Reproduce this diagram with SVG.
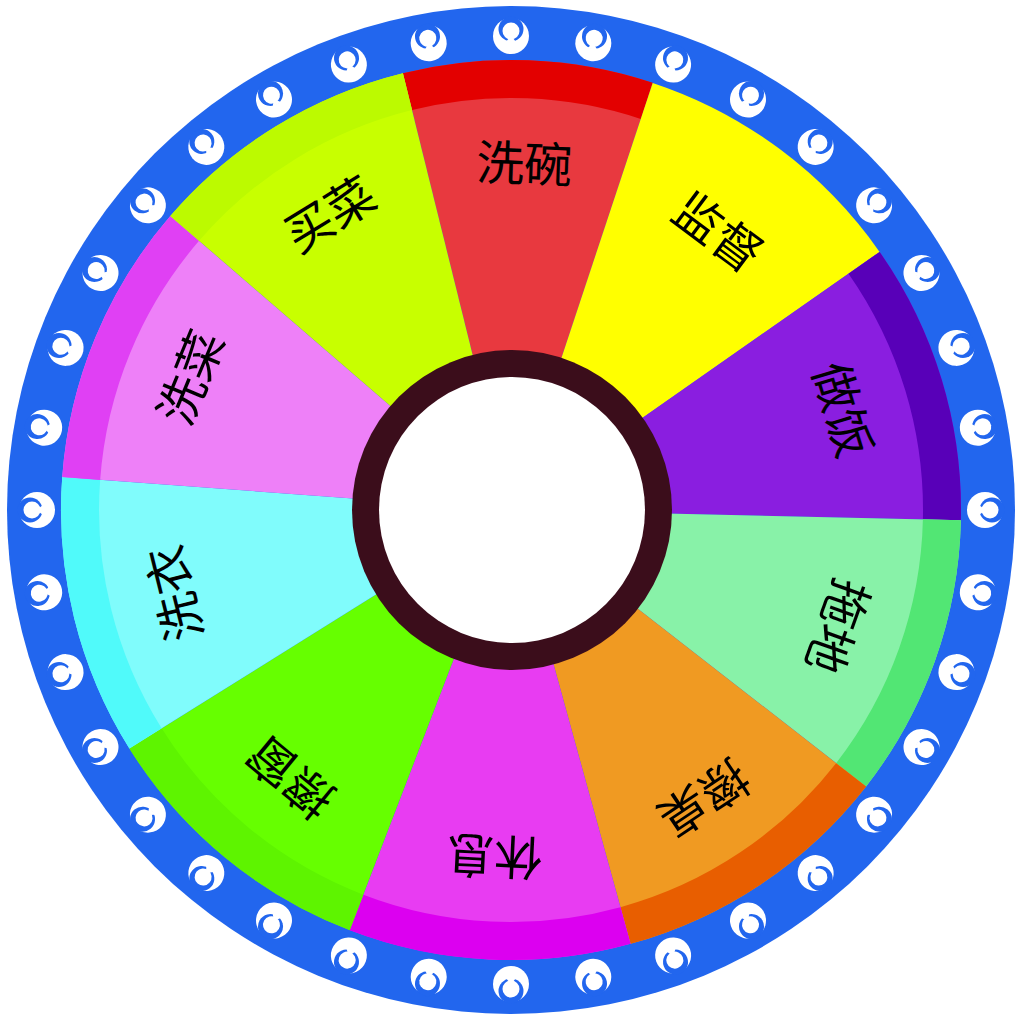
<svg xmlns="http://www.w3.org/2000/svg" xmlns:xlink="http://www.w3.org/1999/xlink" width="1024" height="1024" viewBox="0 0 1024 1024">
<style>
.lbl{font-family:"Noto Sans CJK SC","Noto Sans CJK TC",sans-serif;font-size:48px;fill:#000;text-anchor:middle;dominant-baseline:central}
.rim{fill:none;stroke-width:38}
</style>
<defs>
<g id="ico">
<circle r="18" fill="#fff"/>
<circle cx="0" cy="-7" r="12.5" fill="#2266ee"/>
<path d="M-5 6 L0 -0.5 L5 6 Z" fill="#fff"/>
<circle cx="0" cy="-5" r="8.5" fill="#fff"/>
</g>
</defs>
<rect width="1024" height="1024" fill="#fff"/>
<g id="ring">
<circle cx="511" cy="510" r="504" fill="#2266ee"/>
<g id="icons">
<use xlink:href="#ico" transform="rotate(0 511 510) translate(511 36)"/>
<use xlink:href="#ico" transform="rotate(10 511 510) translate(511 36)"/>
<use xlink:href="#ico" transform="rotate(20 511 510) translate(511 36)"/>
<use xlink:href="#ico" transform="rotate(30 511 510) translate(511 36)"/>
<use xlink:href="#ico" transform="rotate(40 511 510) translate(511 36)"/>
<use xlink:href="#ico" transform="rotate(50 511 510) translate(511 36)"/>
<use xlink:href="#ico" transform="rotate(60 511 510) translate(511 36)"/>
<use xlink:href="#ico" transform="rotate(70 511 510) translate(511 36)"/>
<use xlink:href="#ico" transform="rotate(80 511 510) translate(511 36)"/>
<use xlink:href="#ico" transform="rotate(90 511 510) translate(511 36)"/>
<use xlink:href="#ico" transform="rotate(100 511 510) translate(511 36)"/>
<use xlink:href="#ico" transform="rotate(110 511 510) translate(511 36)"/>
<use xlink:href="#ico" transform="rotate(120 511 510) translate(511 36)"/>
<use xlink:href="#ico" transform="rotate(130 511 510) translate(511 36)"/>
<use xlink:href="#ico" transform="rotate(140 511 510) translate(511 36)"/>
<use xlink:href="#ico" transform="rotate(150 511 510) translate(511 36)"/>
<use xlink:href="#ico" transform="rotate(160 511 510) translate(511 36)"/>
<use xlink:href="#ico" transform="rotate(170 511 510) translate(511 36)"/>
<use xlink:href="#ico" transform="rotate(180 511 510) translate(511 36)"/>
<use xlink:href="#ico" transform="rotate(190 511 510) translate(511 36)"/>
<use xlink:href="#ico" transform="rotate(200 511 510) translate(511 36)"/>
<use xlink:href="#ico" transform="rotate(210 511 510) translate(511 36)"/>
<use xlink:href="#ico" transform="rotate(220 511 510) translate(511 36)"/>
<use xlink:href="#ico" transform="rotate(230 511 510) translate(511 36)"/>
<use xlink:href="#ico" transform="rotate(240 511 510) translate(511 36)"/>
<use xlink:href="#ico" transform="rotate(250 511 510) translate(511 36)"/>
<use xlink:href="#ico" transform="rotate(260 511 510) translate(511 36)"/>
<use xlink:href="#ico" transform="rotate(270 511 510) translate(511 36)"/>
<use xlink:href="#ico" transform="rotate(280 511 510) translate(511 36)"/>
<use xlink:href="#ico" transform="rotate(290 511 510) translate(511 36)"/>
<use xlink:href="#ico" transform="rotate(300 511 510) translate(511 36)"/>
<use xlink:href="#ico" transform="rotate(310 511 510) translate(511 36)"/>
<use xlink:href="#ico" transform="rotate(320 511 510) translate(511 36)"/>
<use xlink:href="#ico" transform="rotate(330 511 510) translate(511 36)"/>
<use xlink:href="#ico" transform="rotate(340 511 510) translate(511 36)"/>
<use xlink:href="#ico" transform="rotate(350 511 510) translate(511 36)"/>
</g>
</g>
<g id="seg-xiwan">
<path d="M511 510 L402.9 73.2 A450 450 0 0 1 652.7 82.9 Z" fill="#e8393f"/>
<path class="rim" d="M407.5 91.6 A431 431 0 0 1 646.7 100.9" stroke="#e30000"/>
<text class="lbl" transform="rotate(2.2 511 510)" x="511" y="160">洗碗</text>
</g>
<g id="seg-jiandu">
<path d="M511 510 L652.7 82.9 A450 450 0 0 1 879.6 251.9 Z" fill="#ffff00"/>
<text class="lbl" transform="rotate(36.7 511 510)" x="511" y="160">监督</text>
</g>
<g id="seg-zuofan">
<path d="M511 510 L879.6 251.9 A450 450 0 0 1 960.9 520.2 Z" fill="#8a1ee0"/>
<path class="rim" d="M864.1 262.8 A431 431 0 0 1 941.9 519.8" stroke="#5800b8"/>
<text class="lbl" transform="rotate(73.2 511 510)" x="511" y="160">做饭</text>
</g>
<g id="seg-tuodi">
<path d="M511 510 L960.9 520.2 A450 450 0 0 1 866.1 786.4 Z" fill="#88f2a8"/>
<path class="rim" d="M941.9 519.8 A431 431 0 0 1 851.1 774.8" stroke="#52e674"/>
<text class="lbl" transform="rotate(109.6 511 510)" x="511" y="160">拖地</text>
</g>
<g id="seg-cazhuo">
<path d="M511 510 L866.1 786.4 A450 450 0 0 1 630.5 943.8 Z" fill="#f09a22"/>
<path class="rim" d="M851.1 774.8 A431 431 0 0 1 625.5 925.5" stroke="#e85e00"/>
<text class="lbl" transform="rotate(146.2 511 510)" x="511" y="160">擦桌</text>
</g>
<g id="seg-xiuxi">
<path d="M511 510 L630.5 943.8 A450 450 0 0 1 349.7 930.1 Z" fill="#e83cf2"/>
<path class="rim" d="M625.5 925.5 A431 431 0 0 1 356.5 912.4" stroke="#dc00f0"/>
<text class="lbl" transform="rotate(182.8 511 510)" x="511" y="160">休息</text>
</g>
<g id="seg-cachuang">
<path d="M511 510 L349.7 930.1 A450 450 0 0 1 129.4 748.5 Z" fill="#66ff00"/>
<path class="rim" d="M356.5 912.4 A431 431 0 0 1 145.5 738.4" stroke="#5ef400"/>
<text class="lbl" transform="rotate(219.5 511 510)" x="511" y="160">擦窗</text>
</g>
<g id="seg-xiyi">
<path d="M511 510 L129.4 748.5 A450 450 0 0 1 62.2 477.1 Z" fill="#80fcfc"/>
<path class="rim" d="M145.5 738.4 A431 431 0 0 1 81.2 478.5" stroke="#50fafa"/>
<text class="lbl" transform="rotate(256.1 511 510)" x="511" y="160">洗衣</text>
</g>
<g id="seg-xicai">
<path d="M511 510 L62.2 477.1 A450 450 0 0 1 170.3 216.0 Z" fill="#ee80f8"/>
<path class="rim" d="M81.2 478.5 A431 431 0 0 1 184.7 228.4" stroke="#e040f4"/>
<text class="lbl" transform="rotate(292.5 511 510)" x="511" y="160">洗菜</text>
</g>
<g id="seg-maicai">
<path d="M511 510 L170.3 216.0 A450 450 0 0 1 402.9 73.2 Z" fill="#c8ff00"/>
<path class="rim" d="M184.7 228.4 A431 431 0 0 1 407.5 91.6" stroke="#bcfa00"/>
<text class="lbl" transform="rotate(328.5 511 510)" x="511" y="160">买菜</text>
</g>
<g id="hub">
<circle cx="512" cy="510" r="160" fill="#3b0d1b"/>
<circle cx="512" cy="510" r="133" fill="#fff"/>
</g>
</svg>
